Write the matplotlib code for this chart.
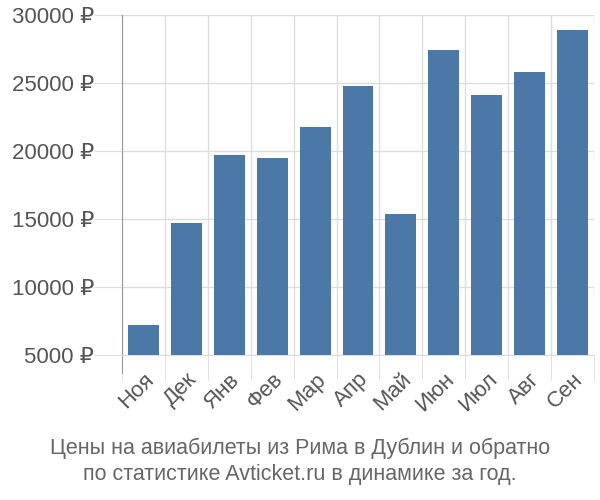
import numpy as np
import matplotlib

matplotlib.use("Agg")
import matplotlib.pyplot as plt

months = ["Ноя", "Дек", "Янв", "Фев", "Мар", "Апр", "Май", "Июн", "Июл", "Авг", "Сен"]
prices = [7200, 14700, 19700, 19500, 21800, 24800, 15400, 27400, 24100, 25800, 28900]
y_ticks = [5000, 10000, 15000, 20000, 25000, 30000]
caption = "Цены на авиабилеты из Рима в Дублин и обратно\nпо статистике Avticket.ru в динамике за год."

plt.rcParams["font.family"] = ["Liberation Sans", "DejaVu Sans"]

fig = plt.figure(figsize=(6, 5), dpi=100)
ax = fig.add_axes([122 / 600, 1 - 355 / 500, (594 - 122) / 600, (355 - 15) / 500])

x = np.arange(len(months))
ax.bar(x, prices, width=0.72, color="#4c78a8", bottom=0, zorder=3)

ax.set_xlim(-0.5, len(months) - 0.5)
ax.set_ylim(5000, 30000)

ax.set_yticks(y_ticks)
ax.set_yticklabels([f"{v} ₽" for v in y_ticks], fontsize=16, color="#555555")
ax.tick_params(axis="y", length=20, color="#dddddd", pad=0)

ax.set_xticks(x)
ax.set_xticklabels(months, rotation=45, ha="right", rotation_mode="anchor",
                   fontsize=16, color="#555555")
ax.tick_params(axis="x", which="major", length=0, pad=10)
ax.set_xticks(np.arange(len(months) + 1) - 0.5, minor=True)
ax.tick_params(axis="x", which="minor", length=18, color="#dddddd")

ax.grid(True, axis="y", color="#dddddd", linewidth=1, zorder=0)
ax.grid(True, axis="x", which="minor", color="#dddddd", linewidth=1, zorder=0)

for side in ["top", "right"]:
    ax.spines[side].set_visible(False)
ax.spines["left"].set_color("#999999")
ax.spines["left"].set_bounds(3680, 30000)
ax.spines["bottom"].set_color("#dddddd")

fig.text(0.5, 1 - 461 / 500, caption, ha="center", va="center",
         fontsize=15.5, color="#666666", linespacing=1.3)

fig.savefig("out.png", dpi=100)
